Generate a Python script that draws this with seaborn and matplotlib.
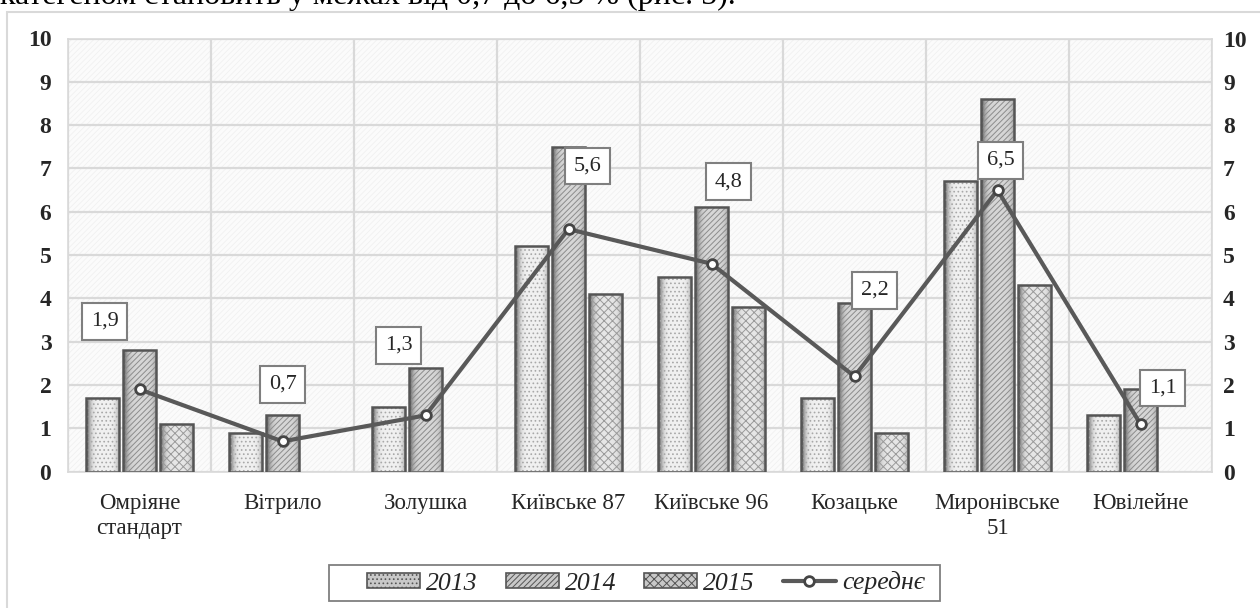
import numpy as np
import pandas as pd
import matplotlib
matplotlib.use("Agg")
import matplotlib.pyplot as plt
import seaborn as sns
from matplotlib.patches import Rectangle, Patch
from matplotlib.lines import Line2D

# ---------------- data ----------------
categories = ["Омріяне\nстандарт", "Вітрило", "Золушка", "Київське 87",
              "Київське 96", "Козацьке", "Миронівське\n51", "Ювілейне"]
years = ["2013", "2014", "2015"]
v2013 = [1.7, 0.9, 1.5, 5.2, 4.5, 1.7, 6.7, 1.3]
v2014 = [2.8, 1.3, 2.4, 7.5, 6.1, 3.9, 8.6, 1.9]
v2015 = [1.1, 0.0, 0.0, 4.1, 3.8, 0.9, 4.3, 0.0]
mean_vals = [1.9, 0.7, 1.3, 5.6, 4.8, 2.2, 6.5, 1.1]
mean_labels = ["1,9", "0,7", "1,3", "5,6", "4,8", "2,2", "6,5", "1,1"]
mean_name = "середнє"
yticks = list(range(0, 11))
header_text = "категеном становить у межах від 0,7 до 6,5 % (рис. 5)."

# ---------------- style ----------------
label_offsets = [(-35, 68), (0, 57), (-27, 70), (19, 63), (17, 82), (20, 86), (3, 30), (22, 36)]
hatches = {"2013": "....", "2014": "//////", "2015": "xxxx"}
hatch_colors = {"2013": "#a8a8a8", "2014": "#8c8c8c", "2015": "#9a9a9a"}
shade_hi = {"2013": 0.94, "2014": 0.84, "2015": 0.90}
W, H = 1260, 608

sns.set_theme(style="white")
plt.rcParams['font.family'] = ['Liberation Serif', 'DejaVu Serif']

fig = plt.figure(figsize=(W / 100, H / 100), dpi=100)
fig.patch.set_facecolor("white")

# outer chart border
fig.patches.append(Rectangle((7 / W, -0.05), 1.05, 1.05 - 12 / H,
                             transform=fig.transFigure, fill=False,
                             edgecolor="#d9d9d9", lw=1.5, zorder=0))
# header text of the page, cut by the top edge as in the source
fig.text(0.0, 1 - 4 / H, header_text, fontsize=23, va="baseline", ha="left",
         color="black")

ax = fig.add_axes([68 / W, 1 - 471.7 / H, (1212 - 68) / W, (471.7 - 38.5) / H])

# faint textured background
plt.rcParams['hatch.linewidth'] = 0.5
ax.add_patch(Rectangle((0, 0), 1, 1, transform=ax.transAxes, facecolor="#fbfbfb",
                       edgecolor="#efefef", hatch="//////", lw=0, zorder=0.1))

rows = []
for yr, vals in zip(years, [v2013, v2014, v2015]):
    for c, v in zip(categories, vals):
        rows.append({"cat": c, "val": v, "year": yr})
df = pd.DataFrame(rows)

sns.barplot(data=df, x="cat", y="val", hue="year", order=categories,
            hue_order=years, width=0.78, gap=0.1, errorbar=None,
            palette={y: "#dddddd" for y in years}, legend=False, ax=ax)

plt.rcParams['hatch.linewidth'] = 0.7
t = np.linspace(0, 1, 60)
for yr, cont in zip(years, ax.containers):
    hi = shade_hi[yr]
    prof = 0.42 + (hi - 0.42) * (1 - np.abs(2 * t - 1.08) ** 5).clip(0, 1)
    grad = np.tile(prof, (2, 1))
    for p in cont.patches:
        x, w, h = p.get_x(), p.get_width(), p.get_height()
        if h <= 0:
            p.set_visible(False)
            continue
        im = ax.imshow(grad, extent=[x, x + w, 0, h], aspect="auto", cmap="gray",
                       vmin=0, vmax=1, interpolation="bilinear", zorder=2)
        im.set_clip_path(p)
        ax.add_patch(Rectangle((x, 0), w, h, fill=False, hatch=hatches[yr],
                               edgecolor=hatch_colors[yr], lw=0, zorder=2.5))
        p.set_facecolor("none")
        p.set_edgecolor("#555555")
        p.set_linewidth(1.8)
        p.set_zorder(3)

# mean line
sns.lineplot(x=np.arange(len(categories)), y=mean_vals, ax=ax, color="#595959",
             lw=3, marker="o", markersize=7, markerfacecolor="white",
             markeredgecolor="#454545", markeredgewidth=2, zorder=5,
             legend=False)

for i, (m, lab) in enumerate(zip(mean_vals, mean_labels)):
    ax.annotate(lab, xy=(i, m), xytext=label_offsets[i], textcoords="offset pixels",
                ha="center", va="center", fontsize=16, zorder=6,
                bbox=dict(boxstyle="square,pad=0.4", fc="white", ec="#7f7f7f", lw=1.5))

ax.set_xlim(-0.5, len(categories) - 0.5)
ax.set_ylim(0, 10)
ax.set_yticks(yticks)
ax.set_yticklabels([str(v) for v in yticks], fontweight="bold", fontsize=17)
ax.set_xticks(np.arange(len(categories)))
ax.set_xticklabels(categories, fontsize=16.5, linespacing=1.3)
ax.set_xticks(np.arange(-0.5, len(categories), 1), minor=True)
ax.set_xlabel("")
ax.set_ylabel("")
ax.set_axisbelow(True)
ax.grid(axis="y", which="major", color="#d9d9d9", lw=1.6)
ax.grid(axis="x", which="minor", color="#d9d9d9", lw=1.6)
ax.grid(axis="x", which="major", visible=False)
ax.tick_params(axis="y", length=0, pad=12)
ax.tick_params(axis="x", which="major", length=0, pad=15)
ax.tick_params(axis="x", which="minor", length=7, color="#d9d9d9", width=1.5)
for s in ax.spines.values():
    s.set_color("#d9d9d9")
    s.set_linewidth(1.2)

tw = ax.twinx()
tw.set_ylim(0, 10)
tw.set_yticks(yticks)
tw.set_yticklabels([str(v) for v in yticks], fontweight="bold", fontsize=17)
tw.tick_params(axis="y", length=0, pad=8)
for s in tw.spines.values():
    s.set_visible(False)
tw.grid(False)

# legend
handles = []
for yr in years:
    handles.append(Patch(facecolor="#c8c8c8", edgecolor="#555555", hatch=hatches[yr],
                         lw=1.2, label=yr))
handles.append(Line2D([], [], color="#595959", lw=3, marker="o", markersize=7,
                      markerfacecolor="white", markeredgecolor="#454545",
                      markeredgewidth=2, label=mean_name))
fig.legend(handles=handles, loc="center", bbox_to_anchor=(646 / W, 1 - 583 / H),
           ncol=4, frameon=False, prop={"style": "italic", "size": 18.5},
           handlelength=2.06, handleheight=0.55, handletextpad=0.23,
           columnspacing=1.1, borderpad=0.2)
fig.patches.append(Rectangle((329 / W, 1 - 601 / H), (940 - 329) / W, 36 / H,
                             transform=fig.transFigure, fill=False,
                             edgecolor="#7f7f7f", lw=1.3, zorder=1))

fig.savefig("out.png", dpi=100)
